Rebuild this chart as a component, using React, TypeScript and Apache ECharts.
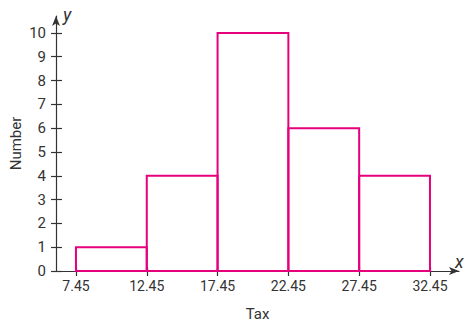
import React, { useEffect, useRef } from "react";
import * as echarts from "echarts";

const boundaries = [7.45, 12.45, 17.45, 22.45, 27.45, 32.45];
const counts = [1, 4, 10, 6, 4];
const yTicks = [0, 1, 2, 3, 4, 5, 6, 7, 8, 9, 10];

const PINK = "#e6007e";
const AXIS = "#333333";
const FONT = "Roboto, 'Liberation Sans', sans-serif";

export default function App() {
  const ref = useRef<HTMLDivElement>(null);
  useEffect(() => {
    if (!ref.current) return;
    const chart = echarts.init(ref.current, null, { renderer: "svg" });
    const data = counts.map((c, i) => [boundaries[i], boundaries[i + 1], c]);
    const tickStyle = { color: AXIS, width: 1.2 };
    chart.setOption({
      animation: false,
      backgroundColor: "#ffffff",
      grid: { left: 56, right: 6, top: 16, bottom: 53, outerBoundsMode: "none", containLabel: false },
      xAxis: [
        {
          type: "value",
          min: 6.04,
          max: 34.5,
          name: "Tax",
          nameLocation: "middle",
          nameGap: 35,
          nameMoveOverlap: false,
          nameTextStyle: { color: AXIS, fontSize: 15, fontFamily: FONT },
          splitLine: { show: false },
          axisLine: {
            show: true,
            lineStyle: { color: AXIS, width: 1.2 },
            symbol: ["none", "arrow"],
            symbolSize: [6, 10],
          },
          axisTick: { show: true, length: 5, customValues: boundaries, lineStyle: tickStyle },
          axisLabel: {
            customValues: boundaries,
            color: AXIS,
            fontSize: 14,
            fontFamily: FONT,
            margin: 8,
            formatter: (v: number) => v.toFixed(2),
          },
        },
        {
          type: "value",
          min: 6.04,
          max: 34.5,
          position: "bottom",
          splitLine: { show: false },
          axisLine: { show: false },
          axisTick: { show: true, inside: true, length: 4, customValues: boundaries, lineStyle: tickStyle },
          axisLabel: { show: false },
        },
      ],
      yAxis: [
        {
          type: "value",
          min: 0,
          max: 10.71,
          name: "Number",
          nameLocation: "middle",
          nameGap: 33,
          nameMoveOverlap: false,
          nameRotate: 90,
          nameTextStyle: { color: AXIS, fontSize: 15, fontFamily: FONT },
          splitLine: { show: false },
          axisLine: {
            show: true,
            lineStyle: { color: AXIS, width: 1.2 },
            symbol: ["none", "arrow"],
            symbolSize: [6, 10],
          },
          axisTick: { show: true, length: 5, customValues: yTicks, lineStyle: tickStyle },
          axisLabel: {
            customValues: yTicks,
            color: AXIS,
            fontSize: 15,
            fontFamily: FONT,
            margin: 10,
          },
        },
        {
          type: "value",
          min: 0,
          max: 10.71,
          position: "left",
          splitLine: { show: false },
          axisLine: { show: false },
          axisTick: { show: true, inside: true, length: 6, customValues: yTicks, lineStyle: tickStyle },
          axisLabel: { show: false },
        },
      ],
      series: [
        {
          type: "custom",
          xAxisIndex: 0,
          yAxisIndex: 0,
          data,
          encode: { x: [0, 1], y: 2 },
          renderItem: (params: any, api: any) => {
            const p0 = api.coord([api.value(0), api.value(2)]);
            const p1 = api.coord([api.value(1), 0]);
            return {
              type: "rect",
              shape: { x: p0[0], y: p0[1], width: p1[0] - p0[0], height: p1[1] - p0[1] },
              style: { fill: "none", stroke: PINK, lineWidth: 2 },
              z2: 5,
            };
          },
        },
      ],
      graphic: [
        {
          type: "text",
          left: 63,
          top: 5,
          style: { text: "y", fill: AXIS, font: `italic 18px ${FONT}` },
        },
        {
          type: "text",
          left: 455,
          top: 252,
          style: { text: "x", fill: AXIS, font: `italic 18px ${FONT}` },
        },
      ],
    });
    return () => chart.dispose();
  }, []);
  return <div ref={ref} style={{ width: 465, height: 324, position: "absolute", left: 0, top: 0 }} />;
}
